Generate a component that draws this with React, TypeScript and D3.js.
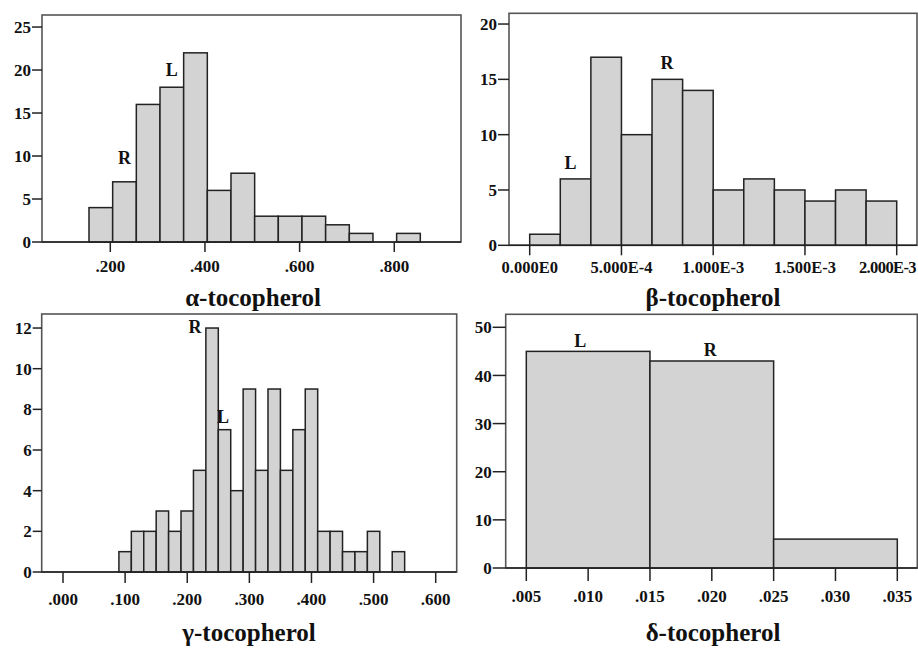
import React from 'react';
import * as d3 from 'd3';

// alpha-tocopherol histogram
const alphaCounts = [4, 7, 16, 18, 22, 6, 8, 3, 3, 3, 2, 1, 0, 1];
const alphaBinStart = 0.155;
const alphaBinWidth = 0.05;
const alphaXTicks = [0.2, 0.4, 0.6, 0.8];
const alphaYTicks = [0, 5, 10, 15, 20, 25];

// beta-tocopherol histogram
const betaCounts = [1, 6, 17, 10, 15, 14, 5, 6, 5, 4, 5, 4];
const betaBinStart = 0;
const betaBinWidth = 0.002 / 12;
const betaXTicks = [0, 0.0005, 0.001, 0.0015, 0.002];
const betaYTicks = [0, 5, 10, 15, 20];

// gamma-tocopherol histogram
const gammaCounts = [1, 2, 2, 3, 2, 3, 5, 12, 7, 4, 9, 5, 9, 5, 7, 9, 2, 2, 1, 1, 2, 0, 1];
const gammaBinStart = 0.09;
const gammaBinWidth = 0.02;
const gammaXTicks = [0, 0.1, 0.2, 0.3, 0.4, 0.5, 0.6];
const gammaYTicks = [0, 2, 4, 6, 8, 10, 12];

// delta-tocopherol histogram
const deltaCounts = [45, 43, 6];
const deltaBinStart = 0.005;
const deltaBinWidth = 0.01;
const deltaXTicks = [0.005, 0.01, 0.015, 0.02, 0.025, 0.03, 0.035];
const deltaYTicks = [0, 10, 20, 30, 40, 50];

// R / L marks: [text, x value, y value]
const alphaMarks: [string, number, number][] = [['R', 0.23, 9.1], ['L', 0.33, 19.3]];
const betaMarks: [string, number, number][] = [['L', 0.000223, 6.9], ['R', 0.000748, 15.9]];
const gammaMarks: [string, number, number][] = [['R', 0.2125, 11.78], ['L', 0.2576, 7.35]];
const deltaMarks: [string, number, number][] = [['L', 0.00937, 45.9], ['R', 0.01988, 44.0]];

const FONT = '"Liberation Serif", "DejaVu Serif", serif';

const decimalFmt = (d: number) => d3.format('.3f')(d).replace(/^0/, '');
const sciFmt = (d: number) => d3.format('.3e')(d).replace('e', 'E').replace('+', '');

interface HistProps {
  counts: number[];
  binStart: number;
  binWidth: number;
  xDomain: [number, number];
  yMax: number;
  xTicks: number[];
  yTicks: number[];
  fmt: (d: number) => string;
  box: { left: number; right: number; top: number; bottom: number };
  yTickLen: number;
  xTickLen: number;
  xLabelDy: number;
  tickFont?: number;
  marks: [string, number, number][];
  title: string;
  titleX: number;
  titleY: number;
}

const Histogram: React.FC<HistProps> = (p) => {
  const x = d3.scaleLinear().domain(p.xDomain).range([p.box.left, p.box.right]);
  const y = d3.scaleLinear().domain([0, p.yMax]).range([p.box.bottom, p.box.top]);
  const tf = p.tickFont ?? 17;
  const bins = p.counts.map((c, i) => ({
    x0: p.binStart + i * p.binWidth,
    x1: p.binStart + (i + 1) * p.binWidth,
    c,
  }));
  return (
    <g>
      <rect
        x={p.box.left}
        y={p.box.top}
        width={p.box.right - p.box.left}
        height={p.box.bottom - p.box.top}
        fill="#fff"
        stroke="#555"
        strokeWidth={1.6}
      />
      {bins.filter((b) => b.c > 0).map((b, i) => (
        <rect
          key={i}
          x={x(b.x0)}
          y={y(b.c)}
          width={x(b.x1) - x(b.x0)}
          height={y(0) - y(b.c)}
          fill="#d3d3d3"
          stroke="#222"
          strokeWidth={1.5}
        />
      ))}
      <line x1={p.box.left} x2={p.box.right} y1={y(0)} y2={y(0)} stroke="#222" strokeWidth={1.6} />
      {p.yTicks.map((t) => (
        <g key={'y' + t}>
          <line x1={p.box.left - p.yTickLen} x2={p.box.left} y1={y(t)} y2={y(t)} stroke="#222" strokeWidth={1.5} />
          <text
            x={p.box.left - p.yTickLen - 1}
            y={y(t)}
            dy="0.36em"
            textAnchor="end"
            fontFamily={FONT}
            fontWeight="bold"
            fontSize={17}
            fill="#111"
          >
            {t}
          </text>
        </g>
      ))}
      {p.xTicks.map((t) => {
        const label = p.fmt(t);
        const halfW = (label.length * tf * 0.5) / 2;
        const overflow = x(t) + halfW > p.box.right + 1;
        return (
          <g key={'x' + t}>
            <line x1={x(t)} x2={x(t)} y1={y(0)} y2={y(0) + p.xTickLen} stroke="#222" strokeWidth={1.5} />
            <text
              x={overflow ? p.box.right - 1 : x(t)}
              y={y(0) + p.xLabelDy}
              textAnchor={overflow ? 'end' : 'middle'}
              fontFamily={FONT}
              fontWeight="bold"
              fontSize={tf}
              letterSpacing={overflow ? -0.6 : 0}
              fill="#111"
            >
              {label}
            </text>
          </g>
        );
      })}
      {p.marks.map(([s, mx, my], i) => (
        <text
          key={'m' + i}
          x={x(mx)}
          y={y(my)}
          textAnchor="middle"
          fontFamily={FONT}
          fontWeight="bold"
          fontSize={18}
          fill="#111"
        >
          {s}
        </text>
      ))}
      <text
        x={p.titleX}
        y={p.titleY}
        textAnchor="middle"
        fontFamily={FONT}
        fontWeight="bold"
        fontSize={25}
        fill="#111"
      >
        {p.title}
      </text>
    </g>
  );
};

export default function App() {
  return (
    <svg
      width={918}
      height={648}
      style={{ position: 'absolute', left: 0, top: 0, background: '#fff' }}
    >
      <Histogram
        counts={alphaCounts}
        binStart={alphaBinStart}
        binWidth={alphaBinWidth}
        xDomain={[0.0557, 0.941]}
        yMax={26.4}
        xTicks={alphaXTicks}
        yTicks={alphaYTicks}
        fmt={decimalFmt}
        box={{ left: 42, right: 461, top: 15, bottom: 242 }}
        yTickLen={10}
        xTickLen={10}
        xLabelDy={29.5}
        marks={alphaMarks}
        title="α-tocopherol"
        titleX={253}
        titleY={306}
      />
      <Histogram
        counts={betaCounts}
        binStart={betaBinStart}
        binWidth={betaBinWidth}
        xDomain={[-0.0001128, 0.0021106]}
        yMax={20.97}
        xTicks={betaXTicks}
        yTicks={betaYTicks}
        fmt={sciFmt}
        box={{ left: 509, right: 917, top: 13.3, bottom: 245.3 }}
        yTickLen={11}
        xTickLen={10}
        xLabelDy={27.7}
        tickFont={16.5}
        marks={betaMarks}
        title="β-tocopherol"
        titleX={713}
        titleY={306}
      />
      <Histogram
        counts={gammaCounts}
        binStart={gammaBinStart}
        binWidth={gammaBinWidth}
        xDomain={[-0.0343, 0.6338]}
        yMax={12.69}
        xTicks={gammaXTicks}
        yTicks={gammaYTicks}
        fmt={decimalFmt}
        box={{ left: 41.7, right: 456.7, top: 314, bottom: 572 }}
        yTickLen={9}
        xTickLen={11}
        xLabelDy={33}
        marks={gammaMarks}
        title="γ-tocopherol"
        titleX={249}
        titleY={641}
      />
      <Histogram
        counts={deltaCounts}
        binStart={deltaBinStart}
        binWidth={deltaBinWidth}
        xDomain={[0.003334, 0.036617]}
        yMax={52.7}
        xTicks={deltaXTicks}
        yTicks={deltaYTicks}
        fmt={decimalFmt}
        box={{ left: 505.7, right: 917.3, top: 314.3, bottom: 568 }}
        yTickLen={13}
        xTickLen={13}
        xLabelDy={33.5}
        marks={deltaMarks}
        title="δ-tocopherol"
        titleX={713}
        titleY={641}
      />
    </svg>
  );
}
